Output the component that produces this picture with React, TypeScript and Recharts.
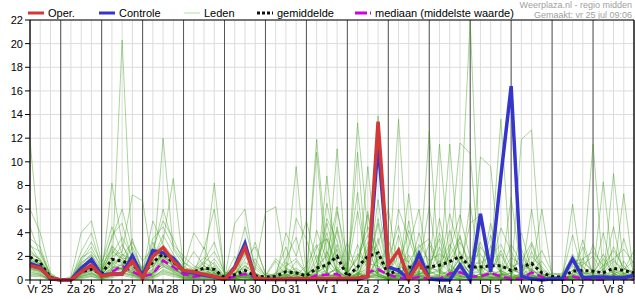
import React from 'react';
import {
  LineChart,
  Line,
  XAxis,
  YAxis,
  CartesianGrid,
  ReferenceLine,
} from 'recharts';

// 6-hourly steps, hour 0 = vr 25 jul 06:00
const hours = Array.from({ length: 60 }, (_, i) => i * 6);
const dayLabels = ['Vr 25', 'Za 26', 'Zo 27', 'Ma 28', 'Di 29', 'Wo 30', 'Do 31', 'Vr 1', 'Za 2', 'Zo 3', 'Ma 4', 'Di 5', 'Wo 6', 'Do 7', 'Vr 8'];
const yTicks = [0, 2, 4, 6, 8, 10, 12, 14, 16, 18, 20, 22];

// operationele run (stopt na ma 4 00:00)
const oper: (number | null)[] = [
  1.2, 1.0, 0.15, 0, 0, 0.7, 1.27, 0.33, 0.5, 0.5, 1.6, 0.15,
  2.0, 2.75, 1.6, 0.8, 0.7, 0.48, 0.3, 0.05, 1.0, 2.75, 0.15, 0.08,
  0.05, 0.08, 0.1, 0.1, 0.1, 0.08, 0.1, 0.1, 0.15, 0.3, 13.4, 1.27,
  2.5, 0.05, 1.47, 0.1,
  null, null, null, null, null, null, null, null, null, null,
  null, null, null, null, null, null, null, null, null, null,
];

const controle = [
  1.4, 1.1, 0.1, 0, 0, 1.0, 1.75, 0.4, 0.5, 0.5, 2.05, 0.3,
  2.5, 2.3, 1.85, 0.75, 0.6, 0.4, 0.25, 0.05, 1.1, 3.1, 0.1, 0.05,
  0.05, 0.05, 0.05, 0.05, 0.05, 0.05, 0.05, 0.05, 0.05, 0.3, 11.5, 1.1,
  0.8, 0.1, 2.2, 0.1, 0, 0, 1.27, 0, 5.6, 0.7, 8.8, 16.4,
  0.33, 0.1, 0, 0.1, 0.1, 1.78, 0.2, 0.25, 0.25, 0.2, 0.2, 0.4,
];

const gemiddelde = [
  1.95, 1.45, 0.2, 0.02, 0.05, 0.7, 0.9, 0.55, 1.75, 1.6, 1.3, 0.5,
  1.5, 2.2, 1.5, 0.8, 0.7, 1.0, 0.9, 0.2, 0.45, 0.8, 0.35, 0.25,
  0.3, 0.7, 0.6, 0.35, 1.0, 1.27, 2.0, 0.3, 1.1, 2.0, 2.3, 0.45,
  0.9, 1.1, 1.0, 1.1, 1.25, 1.55, 2.0, 1.1, 1.1, 1.2, 1.2, 0.8,
  1.1, 1.4, 0.6, 0.3, 0.25, 0.75, 0.8, 0.75, 0.6, 1.0, 0.8, 0.6,
];

const mediaan = [
  1.2, 0.95, 0.1, 0, 0, 0.6, 1.15, 0.3, 0.7, 1.2, 0.7, 0.3,
  0.5, 1.65, 1.1, 0.5, 0.3, 0.35, 0.35, 0.05, 0.3, 0.5, 0.2, 0.05,
  0.05, 0.1, 0.15, 0.05, 0.4, 0.45, 0.5, 0.05, 0.05, 0.65, 0.9, 0.45,
  0.2, 0.1, 0.25, 0.1, 0.1, 0.55, 0.65, 0.3, 0.3, 0.6, 0.3, 0.1,
  0.1, 0.65, 0.25, 0.05, 0.05, 0.3, 0.1, 0.05, 0.05, 0.3, 0.1, 0.05,
];

// ensembleleden
const leden: number[][] = [
  [11.8,2.5,0.3,0, 0,0.8,1.2,0.4, 0.6,1.0,0.8,0.3, 0.4,1.6,1.0,0.5, 0.3,0.6,0.4,0.1, 0.2,0.5,0.1,0, 0,0.2,0.8,0.3, 11.9,2.0,0.5,0.1, 0.3,1.2,0.5,0.2, 0.1,0,0.4,0.2, 0,0.3,1.5,0.6, 0.2,0.5,0.1,0, 0,0.3,0.1,0, 0,0.4,0.2,0, 0.3,0.5,0.2,0],
  [1.2,0.9,0.1,0, 0,0.5,0.9,0.2, 0.8,20.3,1.5,0.4, 0.6,1.8,1.2,0.4, 0.2,0.3,0.6,0, 0.3,0.8,0.2,0, 0.1,0,0.3,0, 0.5,2.4,0.8,0, 0.2,0.6,3.5,0.3, 0.5,1.2,0.3,0.1, 0.4,2.2,11.6,10.7, 0.6,0.3,0.1,0.3, 0.1,0.9,0.2,0, 0,1.2,0.3,0.1, 0,0.2,0.4,0.1],
  [0.8,0.6,0,0, 0,0.3,0.6,0.1, 0.4,0.8,0.6,0.2, 0.3,1.2,0.7,0.2, 0.1,0.2,0.3,0, 0,0.1,0,0, 0,0.4,0.2,0, 0.2,0.9,4.2,0.2, 0.5,0.3,0.7,0, 0.2,0.1,0.6,3.1, 0.8,0.2,4.5,22, 0.4,0.8,0.2,0, 0.1,0.2,0,0, 0,0,0.6,0.2, 0.1,0.8,0.3,0.2],
  [2.2,1.8,0.4,0, 0,1.3,2.1,0.8, 1.8,1.5,0.9,0.6, 0.9,12,2.6,1.2, 0.6,1.5,0.9,0.3, 0.6,1.0,0.4,0.2, 0.1,0.5,0.1,0, 0.3,0.1,0.7,0.2, 0.1,2.8,0.4,0, 0.6,0.2,0.1,0.3, 0.2,0.5,0.3,0.1, 0.3,1.8,13.6,0.5, 0.2,0.4,0.1,0, 0,0.1,0,0.3, 0.5,0.1,0,0.2],
  [1.5,1.1,0.2,0, 0.1,0.6,1.4,0.3, 0.9,2.2,1.3,0.5, 0.7,1.3,0.9,0.4, 0.3,0.4,1.2,0.1, 0.1,0.3,0,0, 0.2,0.1,0,0.1, 0,0.6,0.3,0, 0.4,1.5,13.9,0.6, 0.3,0,0.2,0.1, 0.1,0,0.2,0.5, 0.9,0.2,0,0.1, 0.3,0.1,0,0, 0,0.3,1.1,11.5, 0.4,0.1,0.2,0],
  [0.6,0.5,0,0, 0,0.2,0.4,0.1, 0.3,0.6,0.4,0.1, 0.2,0.9,0.6,0.2, 0.1,0.1,0.2,0, 0.4,0.2,0.1,0, 0,0.1,0.5,0.2, 0.8,0.4,1.1,0.3, 13.3,4.1,0.5,0.2, 0.1,0.4,0,0.2, 0.5,0.7,0.3,0.2, 0,0.1,0.3,0.2, 11.9,12.7,0.3,0, 0,0.2,0.1,0, 0,0.3,0.1,0],
  [3.0,1.6,0.3,0, 0,1.6,2.8,0.9, 2.4,1.8,1.9,0.4, 1.4,2.2,1.6,0.7, 0.5,0.9,0.4,0.2, 0.2,0.6,0.3,0.1, 0,0,0.2,0.1, 0.4,0.2,0.5,0, 0.6,0.1,2.1,0.4, 13.6,0.6,0.3,0.1, 0,0.4,0.8,0.2, 0.1,0.6,0.4,0.2, 0.2,0.5,0.1,0, 0.1,0.2,0.4,0.1, 0.2,9.0,1.2,0.3],
  [1.0,0.7,0.1,0, 0,0.4,0.8,0.6, 1.2,0.9,0.5,0.2, 0.5,2.5,1.1,0.3, 0.2,0.5,0.8,0.1, 0.1,0.2,0.1,0, 0.3,0.9,9.6,0.4, 0.2,0.6,0.9,0.1, 0.1,0.4,0.9,0.3, 0.8,2.1,0.4,12.6, 0.6,0.2,0.1,0.3, 0.2,0.1,0.5,0.1, 0,0.2,0.4,0.1, 0.1,0,0.2,0, 0.1,0.2,0.6,0.1],
  [1.8,1.3,0.2,0, 0,0.9,1.1,0.4, 1.5,1.2,2.8,0.9, 1.9,3.3,8.6,1.0, 0.4,0.7,0.6,0.2, 0.3,0.4,0.2,0, 0,0.3,0.1,0, 0.1,0.3,0.2,0, 0.2,0.7,0.3,0.1, 0.4,0.2,0.8,0.3, 11.5,1.4,0.4,0.2, 0.3,0.2,0.1,0.4, 0.1,1.6,0.2,0, 0,0.1,0.3,0.2, 0.1,0.4,0.1,0],
  [1.3,1.0,0.1,0, 0,0.7,1.3,0.3, 8.2,3.1,1.0,0.3, 0.8,1.9,1.4,0.6, 0.3,0.3,0.5,0.1, 0.5,1.2,0.6,0.1, 0.2,0.5,0.1,0.3, 0.6,0.1,0.4,0.2, 0.3,0.2,0.5,0.1, 0,0.5,1.3,0.2, 0.3,11.5,0.9,0.4, 0.1,0.3,0.1,0, 0.3,0.1,0.2,0, 0.2,0,0.1,0.4, 8.3,0.6,0.1,0],
  [0.9,0.8,0.1,0, 0,0.5,0.7,0.2, 0.6,0.9,0.7,0.3, 0.4,1.4,0.8,0.3, 0.6,1.1,8.2,0.4, 0.1,0.3,0.1,0, 0,0,0.3,0.1, 2.1,0.4,11.1,0.3, 0.4,0.2,0.6,0.1, 0.2,0.1,0,0.1, 0.1,0.3,2.4,0.8, 1.2,0.5,0.2,0.1, 0.6,0.3,0,0, 0,0.5,0.2,0, 0.2,0,0.3,0.1],
  [2.6,1.5,0.2,0, 0,1.1,1.7,0.7, 2.0,2.4,7.2,6.7, 1.1,2.0,1.3,0.6, 0.4,0.8,1.5,0.3, 0.2,0.5,0.2,0.1, 0.1,0.3,0.4,0, 10.8,0.5,0.2,0.1, 10.8,0.3,0.2,0, 0.3,0.6,0.1,0.2, 0.2,0.1,0.6,0.2, 0.5,0.2,0.3,0.6, 0.2,0.3,0.1,0, 0,0.1,0,0.1, 0.3,0.2,0.5,0.4],
  [0.7,0.5,0,0, 0,0.3,0.5,0.2, 0.5,0.7,0.4,0.2, 0.3,0.8,0.5,0.2, 0.2,0.2,0.1,0, 0,0.1,0.1,0, 0.2,0.1,0,0, 0.4,8.8,0.7,0.2, 0.1,9.6,0.8,0.2, 0.3,0.2,0.4,0, 0.1,0.4,0.2,0.1, 0.2,0.4,0.2,0.1, 0.1,0.2,0.1,0, 0,0.1,0,0, 0.1,0.3,7.3,0.2],
  [1.6,1.2,0.2,0, 0,0.8,1.0,0.5, 1.0,1.3,0.9,0.4, 0.6,1.7,1.2,0.5, 0.3,0.6,0.4,0.1, 0.2,0.4,0.3,0, 0.1,0.4,0.6,0.2, 0.3,0.2,0.1,0, 0.2,0.4,0.3,0.1, 0.5,0.3,0.2,0.6, 0.4,0.2,0.3,0.2, 10.4,9.6,0.5,0.2, 0.3,0.2,0.4,0.1, 0,0.2,0.3,0.1, 0.2,0.1,0.4,0.3],
  [4.5,2.1,0.5,0, 0.2,1.9,2.4,1.2, 2.6,1.6,1.1,0.5, 1.2,2.4,1.7,0.9, 0.7,1.2,0.7,0.3, 0.6,1.5,0.9,5.7, 6.2,0.8,0.2,0.1, 0.2,0.4,0.3,0.1, 0.3,0.1,0.4,0.2, 0.1,0.2,0.5,0.1, 0.2,0.3,0.1,0, 0.1,0.2,0.1,0.1, 0.1,0.4,0.1,0, 0.2,6.4,0.4,0.1, 0.1,0.2,0.1,0.1],
  [1.1,0.9,0.1,0, 0,0.5,0.8,0.3, 0.7,1.1,0.6,0.2, 0.5,1.5,0.9,0.4, 0.2,0.4,0.3,0.1, 0.3,0.2,0.1,0, 0,0.2,0.1,0, 0.1,0.3,0.4,0.1, 0.4,0.8,0.3,0.1, 0.2,7.3,0.6,0.4, 0.3,0.4,0.1,0, 0.2,0.1,0.3,7.0, 0.5,0.2,0.1,0, 0.1,0.3,0.2,0.1, 0,0.1,0.2,0],
  [6.0,4.0,0.6,0, 0.3,4.0,5.0,1.5, 3.5,6.0,2.5,0.8, 3.5,4.5,2.8,1.5, 1.0,1.9,1.3,0.4, 0.8,2.3,0.9,0.3, 0.4,1.2,1.8,0.6, 0.7,1.1,2.6,0.4, 0.8,3.2,2.4,0.7, 0.9,0.6,2.5,0.8, 1.3,3.0,1.4,0.7, 2.8,1.5,1.2,0.9, 0.6,2.0,1.1,0.2, 0.3,1.3,1.5,0.8, 0.6,1.6,0.9,0.7],
  [2.0,1.4,0.3,0, 0,1.0,1.5,0.6, 3.8,4.8,1.6,0.7, 5.0,3.0,2.0,1.1, 4.0,2.6,6.0,0.5, 1.2,4.5,1.1,0.4, 0.5,1.5,0.8,0.3, 2.8,3.5,1.4,0.6, 1.9,4.5,2.6,0.6, 2.0,1.5,3.0,1.6, 2.2,1.6,3.2,1.5, 1.4,2.1,3.0,1.1, 1.5,3.2,0.9,0.4, 0.6,1.9,1.1,0.5, 1.2,2.5,1.0,0.6],
  [1.4,1.1,0.2,0, 0,0.6,1.1,0.3, 1.1,1.0,0.8,0.3, 0.9,2.8,1.5,0.6, 0.3,0.5,0.6,0.1, 4.8,6.0,0.5,0, 0.2,4.0,2.0,5.0, 1.5,0.6,5.8,2.0, 0.9,2.1,3.0,6.0, 0.7,0.9,2.1,0.5, 5.2,0.8,0.4,0.3, 0.5,0.2,0.8,0.3, 0.4,0.6,6.0,0.3, 0.2,0.8,0.3,0.1, 0.3,0.2,0.4,0.2],
  [0.5,0.4,0,0, 0,0.2,0.3,0.1, 0.3,0.5,0.3,0.1, 0.2,0.6,0.4,0.1, 0.1,0.1,0.1,0, 0.1,0.3,0.1,0, 0,0.1,0.2,0.1, 0.2,0.1,0.3,0, 0.5,1.9,0.3,0.1, 0.4,0.2,0.1,0.2, 0.1,0.2,0.7,0.2, 0.3,0.6,0.2,0.1, 0.2,0.1,0.2,0, 0,0.1,0.1,0, 0.1,0.4,0.2,0.1],
  [1.9,1.6,0.3,0, 0.1,1.2,1.8,0.8, 1.6,3.0,1.4,0.5, 1.6,1.9,1.3,0.8, 0.6,0.9,0.8,0.2, 0.3,0.6,0.2,0.1, 0.6,2.8,0.4,0.2, 4.2,1.6,0.8,0.2, 0.6,0.9,4.8,0.4, 3.8,0.3,0.5,0.9, 1.6,0.6,1.8,0.5, 0.7,3.8,0.6,0.3, 4.0,0.8,0.3,0.1, 0.1,0.6,2.8,0.4, 0.5,0.3,1.6,0.3],
  [1.2,0.8,0.1,0, 0,0.6,0.9,0.4, 0.9,1.3,0.6,0.3, 0.6,1.6,0.9,0.5, 0.4,0.4,0.3,0.1, 0.2,0.3,0.4,0.1, 0.3,0.4,0.7,0.3, 0.5,1.4,0.3,0.1, 0.2,0.5,0.8,0.5, 0.6,1.0,0.3,0.5, 0.9,0.3,2.0,0.4, 0.3,0.5,0.4,0.6, 0.9,0.4,0.5,0.2, 0.4,0.2,0.6,0.6, 0.4,0.7,0.5,0.3],
  [2.9,2.4,0.4,0, 0,2.4,4.0,1.0, 2.9,2.0,3.2,1.6, 2.7,5.0,3.5,1.5, 0.8,1.4,2.4,0.7, 0.4,2.6,1.4,0.4, 1.8,1.0,0.3,0.2, 0.9,5.2,3.3,0.4, 2.2,1.4,1.2,0.3, 2.8,1.5,0.5,1.2, 0.6,2.6,5.5,1.8, 2.2,0.8,0.5,1.9, 1.3,0.9,0.4,0.5, 0.5,1.5,1.8,2.4, 1.2,1.8,2.6,1.4],
  [0.3,0.3,0,0, 0,0.1,0.3,0, 0.2,0.4,0.2,0.1, 0.1,0.5,0.3,0.1, 0.1,0.1,0,0, 0,0,0,0, 0,0.1,0,0, 0,0.2,0.1,0, 0.1,0.3,0.1,0, 0,0.1,0,0, 0,0.1,0,0, 0.1,0,0.2,0, 0,0.1,0,0, 0,0,0.1,0, 0,0.1,0,0],
  [0.9,0.7,0.1,0, 0,0.4,0.6,0.2, 0.8,1.0,0.5,0.2, 0.6,1.1,0.7,0.3, 0.2,0.5,0.3,0, 0.1,0.8,3.2,0.4, 0.2,0.6,5.2,3.4, 0.6,6.5,2.2,0.3, 1.2,5.5,1.0,0.4, 6.0,3.5,1.0,6.2, 0.5,4.2,1.0,4.8, 5.5,0.8,2.5,0.5, 2.2,0.4,0.3,0.1, 0.2,0.3,0.6,3.0, 0.7,4.5,0.3,0.2],
  [1.7,1.3,0.2,0, 0,1.5,2.0,0.5, 1.3,2.0,1.3,0.6, 2.0,2.2,1.2,0.7, 0.5,1.0,1.0,0.3, 0.5,0.5,0.2,0.1, 0.1,0.3,1.6,0.5, 0.3,3.5,0.6,1.5, 7.4,0.4,6.8,0.5, 0.6,5.0,0.4,1.2, 3.5,0.6,0.3,6.5, 0.5,4.8,0.6,0.2, 0.4,6.0,0.3,0.1, 0.1,0.5,3.4,0.4, 4.0,0.3,0.8,2.5],
  [2.4,1.7,0.3,0, 0,1.4,2.2,0.9, 2.2,3.6,2.0,0.8, 1.8,3.8,2.2,1.0, 0.9,1.6,3.2,0.5, 0.3,1.8,2.8,0.6, 0.3,0.8,0.4,1.2, 3.0,0.8,4.5,0.6, 1.8,3.8,1.5,0.7, 2.4,0.5,4.0,1.0, 0.8,2.0,3.6,0.9, 1.7,0.6,2.2,0.4, 2.6,0.5,0.8,0.2, 0.3,2.2,0.5,0.6, 1.8,0.5,0.9,1.6],
  [1.0,0.8,0.1,0, 0,0.9,1.5,0.5, 1.4,0.9,3.5,0.4, 3.2,1.2,0.8,0.6, 0.6,2.8,0.5,0.2, 2.0,0.4,0.2,0.1, 0.5,1.8,3.6,0.3, 1.6,4.0,0.6,3.2, 0.4,2.6,0.6,3.4, 0.5,2.8,6.0,0.4, 2.8,0.5,1.2,2.0, 0.4,2.9,0.4,1.4, 0.3,2.4,0.5,0.2, 0.2,0.3,1.8,0.5, 2.2,0.4,3.5,0.5],
  [3.5,2.8,0.4,0, 0,1.8,3.2,1.4, 4.5,2.2,1.7,1.0, 2.2,6.0,3.0,2.0, 1.2,0.8,1.8,0.6, 0.5,1.2,0.5,0.2, 0.1,0.6,1.0,0.4, 1.2,2.0,6.2,0.5, 3.0,0.8,5.2,0.8, 1.0,4.2,1.5,0.8, 4.0,1.2,0.6,1.2, 3.2,1.0,4.4,2.4, 0.8,1.2,2.5,0.6, 0.4,3.8,0.6,0.4, 0.9,1.8,0.5,0.9],
  [0.4,0.4,0,0, 0,0.3,0.5,0.1, 0.4,0.6,0.4,0.1, 0.3,0.7,0.5,0.2, 0.2,0.3,0.2,0, 0.1,0.2,0.3,0, 0,0.2,0.1,0.1, 0.3,0.5,0.9,0.2, 0.6,0.4,1.8,0.3, 0.4,0.6,0.3,0.8, 0.3,0.9,0.4,0.6, 0.2,0.5,0.8,0.3, 0.5,0.9,0.2,0, 0,0.2,0.4,0.3, 0.2,0.5,0.3,0.1],
  [1.6,1.4,0.2,0, 0,1.0,1.6,0.4, 2.8,1.8,1.2,0.5, 1.5,2.9,1.8,0.9, 2.4,1.2,0.6,0.2, 0.3,2.2,0.6,0.2, 0.4,1.0,0.6,0.2, 0.6,4.8,1.6,0.8, 5.8,1.0,0.6,1.8, 4.6,0.6,2.8,3.5, 1.0,5.6,2.2,1.2, 0.8,1.5,0.7,3.0, 1.4,0.8,1.6,0.3, 0.3,0.8,1.3,2.0, 0.6,2.8,1.0,0.5],
  [2.0,1.2,0.2,0, 0,0.7,1.2,0.6, 1.6,1.4,1.0,0.4, 1.2,2.1,1.4,0.6, 0.4,0.6,0.9,0.2, 0.2,0.7,1.8,0.3, 1.6,0.3,0.2,0.6, 0.9,0.6,3.0,0.2, 0.9,5.8,0.8,0.4, 0.6,0.9,0.5,0.6, 0.7,0.4,3.8,0.6, 1.2,0.6,0.4,0.9, 0.5,3.0,0.6,0.2, 0.1,0.4,0.7,0.4, 0.3,0.9,0.6,0.5],
];

const data = hours.map((t, i) => {
  const row: Record<string, number | null> = {
    t,
    oper: oper[i] ?? null,
    controle: controle[i],
    gemiddelde: gemiddelde[i],
    mediaan: mediaan[i],
  };
  leden.forEach((m, k) => {
    row[`lid${k}`] = m[i];
  });
  return row;
});

const midnightTicks = dayLabels.slice(1).map((_, k) => 18 + k * 24);

const formatTick = (t: number) => {
  const k = (t - 6) / 24;
  return Number.isInteger(k) && dayLabels[k] ? dayLabels[k] : '';
};

const font = '"Liberation Sans", Arial, sans-serif';

function LegendItem({ left, label, swatch }: { left: number; label: string; swatch: React.ReactNode }) {
  return (
    <div style={{ position: 'absolute', left, top: 6, height: 14, display: 'flex', alignItems: 'center' }}>
      <svg width={18} height={8} style={{ marginRight: 2 }}>
        {swatch}
      </svg>
      <span style={{ fontSize: 11, color: '#000', lineHeight: '14px' }}>{label}</span>
    </div>
  );
}

export default function App() {
  return (
    <div style={{ position: 'absolute', left: 0, top: 0, width: 635, height: 300, background: '#fff', fontFamily: font }}>
      <LineChart width={635} height={300} data={data} margin={{ top: 20, right: 1, bottom: 0, left: 0 }}>
        <CartesianGrid stroke="#dcdcdc" />
        <CartesianGrid xAxisId="dagen" horizontal={false} stroke="#555" />
        <XAxis
          dataKey="t"
          type="number"
          domain={[0, 354]}
          ticks={hours}
          tickFormatter={formatTick}
          interval={0}
          height={20}
          tickSize={4}
          tickMargin={1}
          stroke="#000"
          tick={{ fontSize: 11, fill: '#000', fontFamily: font }}
        />
        <XAxis xAxisId="dagen" dataKey="t" type="number" domain={[0, 354]} ticks={midnightTicks} hide />
        <YAxis
          domain={[0, 22]}
          ticks={yTicks}
          interval={0}
          width={30}
          tickSize={5}
          tickMargin={2}
          stroke="#000"
          tick={{ fontSize: 11, fill: '#000', fontFamily: font }}
        />
        {leden.map((_, k) => (
          <Line
            key={k}
            dataKey={`lid${k}`}
            type="linear"
            stroke="#3a9a14"
            strokeOpacity={0.42}
            strokeWidth={1}
            dot={false}
            activeDot={false}
            isAnimationActive={false}
          />
        ))}
        <Line dataKey="mediaan" type="linear" stroke="#d000e0" strokeWidth={2.5} strokeDasharray="8 4" dot={false} activeDot={false} isAnimationActive={false} />
        <Line dataKey="gemiddelde" type="linear" stroke="#111" strokeWidth={3} strokeDasharray="3 3" dot={false} activeDot={false} isAnimationActive={false} />
        <Line dataKey="controle" type="linear" stroke="#3535cc" strokeWidth={3.5} dot={false} activeDot={false} isAnimationActive={false} />
        <Line dataKey="oper" type="linear" stroke="#d33838" strokeWidth={3.5} dot={false} activeDot={false} isAnimationActive={false} />
        <ReferenceLine y={22} stroke="#000" />
        <ReferenceLine x={354} stroke="#000" />
      </LineChart>

      <LegendItem left={28} label="Oper." swatch={<rect x={0} y={2.5} width={16} height={3} fill="#d33838" />} />
      <LegendItem left={99} label="Controle" swatch={<rect x={0} y={2.5} width={16} height={3} fill="#3535cc" />} />
      <LegendItem left={184} label="Leden" swatch={<rect x={0} y={3.5} width={16} height={1} fill="#b8dca8" />} />
      <LegendItem
        left={257}
        label="gemiddelde"
        swatch={<line x1={0} y1={4} x2={16} y2={4} stroke="#111" strokeWidth={3} strokeDasharray="3 2" />}
      />
      <LegendItem
        left={355}
        label="mediaan (middelste waarde)"
        swatch={<line x1={0} y1={4} x2={17} y2={4} stroke="#d000e0" strokeWidth={3} strokeDasharray="12 3 1 3" />}
      />

      <div style={{ position: 'absolute', right: 3, top: 0, textAlign: 'right', fontSize: 9, lineHeight: '10px', color: '#a0a0a0' }}>
        <div>Weerplaza.nl - regio midden</div>
        <div>Gemaakt: vr 25 jul 09:06</div>
      </div>
    </div>
  );
}
